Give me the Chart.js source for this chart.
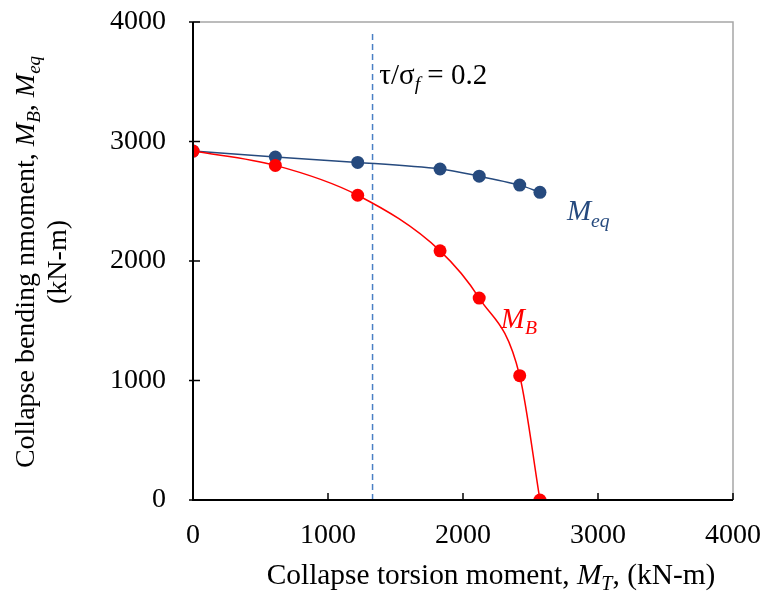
<!DOCTYPE html>
<html><head><meta charset="utf-8">
<script src="https://cdn.jsdelivr.net/npm/chart.js@4"></script>
<style>html,body{margin:0;padding:0;background:#fff}#wrap{width:765px;height:594px}</style>
</head><body><div id="wrap"><canvas id="c" width="765" height="594"></canvas></div>
<script>
const torsionX = [0, 610, 1220, 1830, 2120, 2420, 2570];
const meqValues = [2920, 2870, 2825, 2770, 2710, 2635, 2575];
const mbValues = [2920, 2800, 2550, 2085, 1690, 1040, 0];
const ratioLineX = 1330;
const ratioLineY = [0, 3910];
const xTicks = [0, 1000, 2000, 3000, 4000];
const yTicks = [0, 1000, 2000, 3000, 4000];

const FONT = '"Liberation Serif","Times New Roman",serif';
const BLUE = '#264a7e';
const RED = '#ff0000';

function drawRuns(ctx, runs, x, y, size, color, align) {
  const parts = runs.map(r => {
    const fs = r.sub ? size * 0.68 : size;
    const f = (r.it ? 'italic ' : '') + fs + 'px ' + FONT;
    ctx.font = f;
    return {t: r.t, f, w: ctx.measureText(r.t).width, sub: r.sub, fs};
  });
  const total = parts.reduce((a, p) => a + p.w, 0);
  let cx = align === 'center' ? x - total / 2 : x;
  ctx.fillStyle = color;
  ctx.textBaseline = 'alphabetic';
  ctx.textAlign = 'left';
  for (const p of parts) {
    ctx.font = p.f;
    ctx.fillText(p.t, cx, y + (p.sub ? size * 0.22 : 0));
    cx += p.w;
  }
}

const deco = {
  id: 'deco',
  afterDraw(chart) {
    const {ctx, chartArea: a, scales: {x, y}} = chart;
    ctx.save();
    ctx.strokeStyle = '#a6a6a6'; ctx.lineWidth = 1.5;
    ctx.beginPath(); ctx.moveTo(a.left, a.top); ctx.lineTo(a.right, a.top); ctx.lineTo(a.right, a.bottom); ctx.stroke();
    ctx.strokeStyle = '#000'; ctx.lineWidth = 2;
    ctx.beginPath(); ctx.moveTo(a.left, a.top); ctx.lineTo(a.left, a.bottom); ctx.lineTo(a.right, a.bottom); ctx.stroke();
    ctx.lineWidth = 1.5;
    for (const v of xTicks) { const px = x.getPixelForValue(v); ctx.beginPath(); ctx.moveTo(px, a.bottom); ctx.lineTo(px, a.bottom - 7); ctx.stroke(); }
    for (const v of yTicks) { const py = y.getPixelForValue(v); ctx.beginPath(); ctx.moveTo(a.left - 4, py); ctx.lineTo(a.left + 7, py); ctx.stroke(); }
    drawRuns(ctx, [{t:'τ/σ'},{t:'f', it:true, sub:true},{t:' = 0.2'}], x.getPixelForValue(1380), 84, 29, '#000', 'left');
    drawRuns(ctx, [{t:'M', it:true},{t:'eq', it:true, sub:true}], x.getPixelForValue(2770), y.getPixelForValue(2340), 29, BLUE, 'left');
    drawRuns(ctx, [{t:'M', it:true},{t:'B', it:true, sub:true}], x.getPixelForValue(2280), y.getPixelForValue(1440), 29, RED, 'left');
    drawRuns(ctx, [{t:'Collapse torsion moment, '},{t:'M', it:true},{t:'T', it:true, sub:true},{t:', (kN-m)'}], 491, 584, 29.4, '#000', 'center');
    ctx.save();
    ctx.translate(34, 262); ctx.rotate(-Math.PI / 2);
    drawRuns(ctx, [{t:'Collapse bending nmoment, '},{t:'M', it:true},{t:'B', it:true, sub:true},{t:', '},{t:'M', it:true},{t:'eq', it:true, sub:true}], 0, 0, 28, '#000', 'center');
    ctx.restore();
    ctx.save();
    ctx.translate(66, 262); ctx.rotate(-Math.PI / 2);
    drawRuns(ctx, [{t:'(kN-m)'}], 0, 0, 28, '#000', 'center');
    ctx.restore();
    ctx.restore();
  }
};

new Chart(document.getElementById('c'), {
  type: 'scatter',
  data: {
    datasets: [
      {label: 'ratio', data: ratioLineY.map(v => ({x: ratioLineX, y: v})), showLine: true, borderColor: '#4a7fc4', borderWidth: 1.5, borderDash: [6, 4], pointRadius: 0},
      {label: 'MB', data: torsionX.map((v, i) => ({x: v, y: mbValues[i]})), showLine: true, borderColor: RED, backgroundColor: RED, borderWidth: 1.5, pointRadius: 6.5, pointBorderWidth: 0, cubicInterpolationMode: 'monotone'},
      {label: 'Meq', data: torsionX.map((v, i) => ({x: v, y: meqValues[i]})), showLine: true, borderColor: BLUE, backgroundColor: BLUE, borderWidth: 1.5, pointRadius: 6.5, pointBorderWidth: 0, tension: 0.3}
    ]
  },
  options: {
    responsive: false, animation: false,
    layout: {padding: {left: 0, top: 22, right: 32, bottom: 0}},
    plugins: {legend: {display: false}, tooltip: {enabled: false}},
    scales: {
      x: {type: 'linear', min: 0, max: 4000,
        afterFit: s => { s.height = 94; s.paddingLeft = 0; s.paddingRight = 0; },
        afterBuildTicks: s => { s.ticks = xTicks.map(v => ({value: v})); },
        grid: {display: false, drawTicks: false}, border: {display: false},
        ticks: {padding: 19, color: '#000', font: {family: FONT, size: 28}, callback: v => String(v)}},
      y: {type: 'linear', min: 0, max: 4000,
        afterFit: s => { s.width = 193; s.paddingTop = 0; s.paddingBottom = 0; },
        afterBuildTicks: s => { s.ticks = yTicks.map(v => ({value: v})); },
        grid: {display: false, drawTicks: false}, border: {display: false},
        ticks: {padding: 27, color: '#000', font: {family: FONT, size: 28}, callback: v => String(v)}}
    }
  },
  plugins: [deco]
});
</script></body></html>
